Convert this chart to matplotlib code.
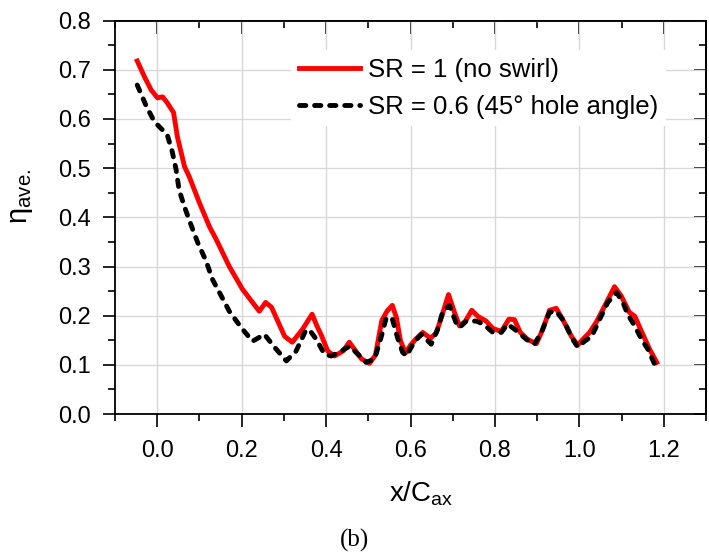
import matplotlib
matplotlib.use("Agg")
import matplotlib.pyplot as plt
from matplotlib.ticker import MultipleLocator

plt.rcParams['font.family'] = ['Liberation Sans', 'DejaVu Sans']
plt.rcParams['mathtext.fontset'] = 'custom'
plt.rcParams['mathtext.rm'] = 'Liberation Sans'

# SR = 1 (no swirl)
x_sr1 = [-0.047, -0.030, -0.014, 0.001, 0.013, 0.024, 0.039, 0.048, 0.065, 0.076,
         0.100, 0.124, 0.140, 0.171, 0.202, 0.242, 0.257, 0.271, 0.302, 0.320,
         0.344, 0.367, 0.378, 0.389, 0.404, 0.420, 0.440, 0.455, 0.467, 0.484,
         0.503, 0.517, 0.532, 0.545, 0.557, 0.567, 0.576, 0.588, 0.600, 0.612,
         0.629, 0.647, 0.661, 0.674, 0.690, 0.704, 0.716, 0.730, 0.745, 0.759,
         0.779, 0.795, 0.815, 0.833, 0.846, 0.860, 0.877, 0.898, 0.913, 0.929,
         0.945, 0.960, 0.981, 0.996, 1.008, 1.024, 1.040, 1.064, 1.083, 1.099,
         1.118, 1.131, 1.147, 1.166, 1.183]
eta_sr1 = [0.718, 0.686, 0.659, 0.643, 0.645, 0.633, 0.613, 0.564, 0.503, 0.483,
           0.430, 0.381, 0.355, 0.300, 0.254, 0.209, 0.227, 0.217, 0.158, 0.146,
           0.172, 0.203, 0.180, 0.160, 0.128, 0.118, 0.128, 0.146, 0.132, 0.112,
           0.103, 0.120, 0.190, 0.210, 0.221, 0.195, 0.150, 0.124, 0.140, 0.152,
           0.166, 0.154, 0.165, 0.199, 0.243, 0.207, 0.179, 0.189, 0.211, 0.199,
           0.189, 0.174, 0.168, 0.193, 0.192, 0.166, 0.152, 0.143, 0.172, 0.211,
           0.215, 0.193, 0.158, 0.140, 0.152, 0.166, 0.187, 0.227, 0.259, 0.240,
           0.207, 0.199, 0.168, 0.132, 0.105]

# SR = 0.6 (45 deg hole angle)
x_sr06 = [-0.047, -0.025, -0.006, 0.001, 0.024, 0.036, 0.045, 0.052, 0.065, 0.081,
          0.096, 0.116, 0.131, 0.152, 0.171, 0.199, 0.226, 0.254, 0.278, 0.306,
          0.329, 0.353, 0.365, 0.377, 0.396, 0.412, 0.432, 0.456, 0.475, 0.495,
          0.515, 0.531, 0.543, 0.557, 0.569, 0.581, 0.590, 0.610, 0.626, 0.649,
          0.664, 0.676, 0.692, 0.709, 0.716, 0.732, 0.756, 0.772, 0.795, 0.815,
          0.830, 0.853, 0.874, 0.893, 0.910, 0.929, 0.945, 0.965, 0.981, 0.996,
          1.012, 1.029, 1.048, 1.067, 1.088, 1.103, 1.114, 1.131, 1.147, 1.162,
          1.178]
eta_sr06 = [0.669, 0.625, 0.594, 0.588, 0.568, 0.533, 0.497, 0.456, 0.421, 0.383,
            0.349, 0.311, 0.274, 0.240, 0.209, 0.176, 0.148, 0.162, 0.136, 0.108,
            0.128, 0.172, 0.166, 0.152, 0.122, 0.118, 0.126, 0.138, 0.122, 0.105,
            0.112, 0.158, 0.197, 0.193, 0.156, 0.126, 0.118, 0.148, 0.162, 0.142,
            0.172, 0.207, 0.221, 0.183, 0.176, 0.189, 0.189, 0.183, 0.166, 0.166,
            0.183, 0.168, 0.152, 0.142, 0.166, 0.207, 0.209, 0.187, 0.156, 0.136,
            0.148, 0.158, 0.193, 0.227, 0.247, 0.227, 0.203, 0.179, 0.152, 0.132,
            0.101]

labels = ["SR = 1 (no swirl)", "SR = 0.6 (45° hole angle)"]

fig = plt.figure(figsize=(7.09, 5.58), dpi=100)
ax = fig.add_axes([0.162, 0.258, 0.834, 0.705])

ax.plot(x_sr1, eta_sr1, color='#ff0000', lw=3.5, label=labels[0], zorder=3)
ax.plot(x_sr06, eta_sr06, color='black', lw=3.5, dashes=(1.3, 1.8),
        dash_capstyle='round', label=labels[1], zorder=4)

ax.set_xlim(-0.1, 1.3)
ax.set_ylim(0.0, 0.8)
ax.xaxis.set_major_locator(MultipleLocator(0.2))
ax.xaxis.set_minor_locator(MultipleLocator(0.1))
ax.yaxis.set_major_locator(MultipleLocator(0.1))
ax.yaxis.set_minor_locator(MultipleLocator(0.05))
ax.set_xticks([0.0, 0.2, 0.4, 0.6, 0.8, 1.0, 1.2])
ax.xaxis.set_major_formatter(plt.FuncFormatter(lambda v, p: f"{v:.1f}"))
ax.yaxis.set_major_formatter(plt.FuncFormatter(lambda v, p: f"{v:.1f}"))

ax.grid(True, which='major', color='#d8d8d8', lw=1)
ax.set_axisbelow(True)

for s in ax.spines.values():
    s.set_linewidth(1.3)

ax.tick_params(which='both', bottom=True, left=True, top=False, right=False,
               direction='out', width=1.2, labelsize=17)
ax.tick_params(which='major', length=9)
ax.tick_params(which='minor', length=5)
ax.tick_params(axis='x', which='major', pad=10)
ax.tick_params(axis='y', which='major', pad=8)

# inward ticks on the top and right sides
ax_t = ax.secondary_xaxis('top')
ax_t.xaxis.set_major_locator(MultipleLocator(0.2))
ax_t.xaxis.set_minor_locator(MultipleLocator(0.1))
ax_t.tick_params(which='both', direction='in', width=1.2, labeltop=False)
ax_t.tick_params(which='major', length=9)
ax_t.tick_params(which='minor', length=5)
ax_t.spines['top'].set_linewidth(1.3)
ax_r = ax.secondary_yaxis('right')
ax_r.yaxis.set_major_locator(MultipleLocator(0.1))
ax_r.yaxis.set_minor_locator(MultipleLocator(0.05))
ax_r.tick_params(which='both', direction='in', width=1.2, labelright=False)
ax_r.tick_params(which='major', length=9)
ax_r.tick_params(which='minor', length=5)
ax_r.spines['right'].set_linewidth(1.3)

ax.set_xlabel(r"x/C$_\mathregular{ax}$", fontsize=20)
ax.xaxis.set_label_coords(0.518, -0.165)
ax.set_ylabel(r"$\mathregular{η_{ave.}}$", fontsize=21)
ax.yaxis.set_label_coords(-0.135, 0.552)

leg = ax.legend(loc='upper left', bbox_to_anchor=(0.298, 0.925), fontsize=18.5,
                frameon=True, framealpha=1, edgecolor='none', fancybox=False,
                handlelength=2.4, handletextpad=0.3, labelspacing=0.5,
                borderpad=0.3, borderaxespad=0)

fig.text(0.5, 1 - 540 / 558, "(b)", family='Liberation Serif', fontsize=18,
         ha='center', va='center')

fig.savefig("out.png", dpi=100)
